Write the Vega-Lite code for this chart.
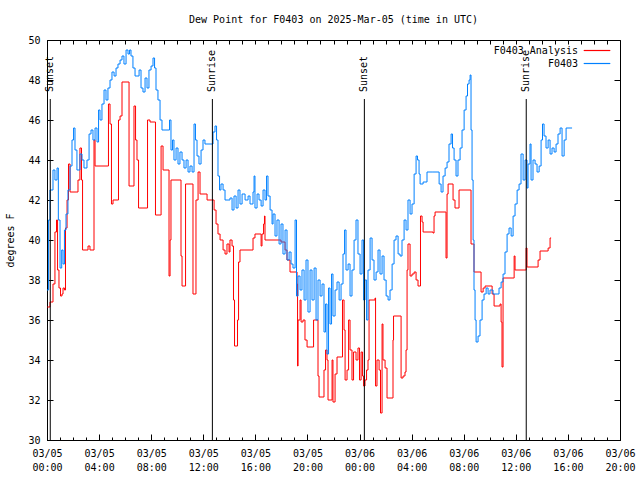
{
  "$schema": "https://vega.github.io/schema/vega-lite/v6.json",
  "width": 573,
  "height": 400,
  "autosize": {"type": "none"},
  "padding": {"left": 47, "top": 40, "right": 20, "bottom": 40},
  "title": {"text": "Dew Point for F0403 on 2025-Mar-05 (time in UTC)", "font": "DejaVu Sans Mono", "fontSize": 10, "fontWeight": "normal", "color": "black", "anchor": "middle", "offset": 10},
  "config": {
    "view": {"stroke": "black", "strokeWidth": 1},
    "font": "DejaVu Sans Mono",
    "axis": {"grid": false, "domainColor": "black", "tickColor": "black", "labelColor": "black", "labelFont": "DejaVu Sans Mono", "labelFontSize": 10, "titleFont": "DejaVu Sans Mono", "titleFontSize": 10, "titleFontWeight": "normal", "titleColor": "black"}
  },
  "datasets": {
    "obs": [
      {"series":"F0403 Analysis","hour":0.02,"dewpoint":36.65},
      {"series":"F0403 Analysis","hour":0.23,"dewpoint":36.9},
      {"series":"F0403 Analysis","hour":0.46,"dewpoint":37.8},
      {"series":"F0403 Analysis","hour":0.61,"dewpoint":40.4},
      {"series":"F0403 Analysis","hour":0.73,"dewpoint":41.0},
      {"series":"F0403 Analysis","hour":0.81,"dewpoint":38.5},
      {"series":"F0403 Analysis","hour":0.92,"dewpoint":37.6},
      {"series":"F0403 Analysis","hour":1.04,"dewpoint":37.2},
      {"series":"F0403 Analysis","hour":1.15,"dewpoint":37.3},
      {"series":"F0403 Analysis","hour":1.23,"dewpoint":37.6},
      {"series":"F0403 Analysis","hour":1.34,"dewpoint":37.5},
      {"series":"F0403 Analysis","hour":1.42,"dewpoint":40.6},
      {"series":"F0403 Analysis","hour":1.54,"dewpoint":42.0},
      {"series":"F0403 Analysis","hour":1.65,"dewpoint":43.8},
      {"series":"F0403 Analysis","hour":1.77,"dewpoint":42.4},
      {"series":"F0403 Analysis","hour":2.30,"dewpoint":42.4},
      {"series":"F0403 Analysis","hour":2.38,"dewpoint":43.0},
      {"series":"F0403 Analysis","hour":2.53,"dewpoint":44.6},
      {"series":"F0403 Analysis","hour":2.65,"dewpoint":43.0},
      {"series":"F0403 Analysis","hour":2.73,"dewpoint":39.5},
      {"series":"F0403 Analysis","hour":3.07,"dewpoint":39.5},
      {"series":"F0403 Analysis","hour":3.15,"dewpoint":39.7},
      {"series":"F0403 Analysis","hour":3.30,"dewpoint":39.5},
      {"series":"F0403 Analysis","hour":3.53,"dewpoint":39.5},
      {"series":"F0403 Analysis","hour":3.61,"dewpoint":45.0},
      {"series":"F0403 Analysis","hour":3.69,"dewpoint":43.7},
      {"series":"F0403 Analysis","hour":4.68,"dewpoint":43.7},
      {"series":"F0403 Analysis","hour":4.72,"dewpoint":46.8},
      {"series":"F0403 Analysis","hour":4.84,"dewpoint":45.8},
      {"series":"F0403 Analysis","hour":4.95,"dewpoint":41.8},
      {"series":"F0403 Analysis","hour":5.07,"dewpoint":42.0},
      {"series":"F0403 Analysis","hour":5.38,"dewpoint":42.0},
      {"series":"F0403 Analysis","hour":5.49,"dewpoint":46.0},
      {"series":"F0403 Analysis","hour":5.61,"dewpoint":46.2},
      {"series":"F0403 Analysis","hour":5.76,"dewpoint":47.9},
      {"series":"F0403 Analysis","hour":6.22,"dewpoint":47.9},
      {"series":"F0403 Analysis","hour":6.30,"dewpoint":42.7},
      {"series":"F0403 Analysis","hour":6.60,"dewpoint":42.7},
      {"series":"F0403 Analysis","hour":6.68,"dewpoint":46.7},
      {"series":"F0403 Analysis","hour":6.80,"dewpoint":45.0},
      {"series":"F0403 Analysis","hour":6.91,"dewpoint":44.0},
      {"series":"F0403 Analysis","hour":7.03,"dewpoint":41.6},
      {"series":"F0403 Analysis","hour":7.68,"dewpoint":41.6},
      {"series":"F0403 Analysis","hour":7.72,"dewpoint":46.0},
      {"series":"F0403 Analysis","hour":7.91,"dewpoint":45.9},
      {"series":"F0403 Analysis","hour":8.29,"dewpoint":45.9},
      {"series":"F0403 Analysis","hour":8.33,"dewpoint":41.25},
      {"series":"F0403 Analysis","hour":8.68,"dewpoint":41.25},
      {"series":"F0403 Analysis","hour":8.76,"dewpoint":44.7},
      {"series":"F0403 Analysis","hour":8.91,"dewpoint":43.5},
      {"series":"F0403 Analysis","hour":9.29,"dewpoint":43.5},
      {"series":"F0403 Analysis","hour":9.37,"dewpoint":38.2},
      {"series":"F0403 Analysis","hour":9.45,"dewpoint":40.0},
      {"series":"F0403 Analysis","hour":9.52,"dewpoint":43.0},
      {"series":"F0403 Analysis","hour":10.21,"dewpoint":43.0},
      {"series":"F0403 Analysis","hour":10.29,"dewpoint":39.2},
      {"series":"F0403 Analysis","hour":10.37,"dewpoint":37.7},
      {"series":"F0403 Analysis","hour":10.60,"dewpoint":37.7},
      {"series":"F0403 Analysis","hour":10.64,"dewpoint":42.8},
      {"series":"F0403 Analysis","hour":11.14,"dewpoint":42.8},
      {"series":"F0403 Analysis","hour":11.21,"dewpoint":37.3},
      {"series":"F0403 Analysis","hour":11.37,"dewpoint":37.3},
      {"series":"F0403 Analysis","hour":11.44,"dewpoint":42.0},
      {"series":"F0403 Analysis","hour":11.60,"dewpoint":43.4},
      {"series":"F0403 Analysis","hour":11.75,"dewpoint":42.3},
      {"series":"F0403 Analysis","hour":12.29,"dewpoint":42.0},
      {"series":"F0403 Analysis","hour":12.75,"dewpoint":42.0},
      {"series":"F0403 Analysis","hour":12.83,"dewpoint":41.5},
      {"series":"F0403 Analysis","hour":12.98,"dewpoint":40.8},
      {"series":"F0403 Analysis","hour":13.13,"dewpoint":40.3},
      {"series":"F0403 Analysis","hour":13.29,"dewpoint":40.0},
      {"series":"F0403 Analysis","hour":13.52,"dewpoint":39.5},
      {"series":"F0403 Analysis","hour":13.67,"dewpoint":39.3},
      {"series":"F0403 Analysis","hour":13.82,"dewpoint":39.8},
      {"series":"F0403 Analysis","hour":13.98,"dewpoint":39.4},
      {"series":"F0403 Analysis","hour":14.05,"dewpoint":40.0},
      {"series":"F0403 Analysis","hour":14.21,"dewpoint":39.7},
      {"series":"F0403 Analysis","hour":14.32,"dewpoint":37.0},
      {"series":"F0403 Analysis","hour":14.40,"dewpoint":34.7},
      {"series":"F0403 Analysis","hour":14.59,"dewpoint":34.7},
      {"series":"F0403 Analysis","hour":14.63,"dewpoint":36.0},
      {"series":"F0403 Analysis","hour":14.71,"dewpoint":38.9},
      {"series":"F0403 Analysis","hour":14.82,"dewpoint":39.5},
      {"series":"F0403 Analysis","hour":15.74,"dewpoint":39.5},
      {"series":"F0403 Analysis","hour":15.82,"dewpoint":40.1},
      {"series":"F0403 Analysis","hour":15.97,"dewpoint":40.3},
      {"series":"F0403 Analysis","hour":16.36,"dewpoint":40.3},
      {"series":"F0403 Analysis","hour":16.44,"dewpoint":39.7},
      {"series":"F0403 Analysis","hour":16.51,"dewpoint":40.3},
      {"series":"F0403 Analysis","hour":16.63,"dewpoint":40.8},
      {"series":"F0403 Analysis","hour":16.70,"dewpoint":41.2},
      {"series":"F0403 Analysis","hour":16.74,"dewpoint":40.0},
      {"series":"F0403 Analysis","hour":17.66,"dewpoint":40.0},
      {"series":"F0403 Analysis","hour":17.97,"dewpoint":39.9},
      {"series":"F0403 Analysis","hour":18.28,"dewpoint":39.5},
      {"series":"F0403 Analysis","hour":18.43,"dewpoint":39.0},
      {"series":"F0403 Analysis","hour":18.66,"dewpoint":38.4},
      {"series":"F0403 Analysis","hour":18.97,"dewpoint":38.4},
      {"series":"F0403 Analysis","hour":19.20,"dewpoint":37.8},
      {"series":"F0403 Analysis","hour":19.24,"dewpoint":33.7},
      {"series":"F0403 Analysis","hour":19.28,"dewpoint":36.0},
      {"series":"F0403 Analysis","hour":19.43,"dewpoint":37.0},
      {"series":"F0403 Analysis","hour":19.51,"dewpoint":35.9},
      {"series":"F0403 Analysis","hour":19.66,"dewpoint":36.0},
      {"series":"F0403 Analysis","hour":19.81,"dewpoint":35.0},
      {"series":"F0403 Analysis","hour":19.97,"dewpoint":34.65},
      {"series":"F0403 Analysis","hour":20.43,"dewpoint":34.65},
      {"series":"F0403 Analysis","hour":20.47,"dewpoint":36.0},
      {"series":"F0403 Analysis","hour":20.74,"dewpoint":36.0},
      {"series":"F0403 Analysis","hour":20.81,"dewpoint":33.2},
      {"series":"F0403 Analysis","hour":20.89,"dewpoint":32.15},
      {"series":"F0403 Analysis","hour":21.20,"dewpoint":32.15},
      {"series":"F0403 Analysis","hour":21.27,"dewpoint":33.5},
      {"series":"F0403 Analysis","hour":21.39,"dewpoint":34.5},
      {"series":"F0403 Analysis","hour":21.50,"dewpoint":34.0},
      {"series":"F0403 Analysis","hour":21.58,"dewpoint":32.0},
      {"series":"F0403 Analysis","hour":21.81,"dewpoint":32.0},
      {"series":"F0403 Analysis","hour":21.89,"dewpoint":34.0},
      {"series":"F0403 Analysis","hour":21.96,"dewpoint":31.9},
      {"series":"F0403 Analysis","hour":22.12,"dewpoint":33.3},
      {"series":"F0403 Analysis","hour":22.27,"dewpoint":34.15},
      {"series":"F0403 Analysis","hour":22.62,"dewpoint":34.15},
      {"series":"F0403 Analysis","hour":22.69,"dewpoint":37.0},
      {"series":"F0403 Analysis","hour":22.81,"dewpoint":35.5},
      {"series":"F0403 Analysis","hour":22.89,"dewpoint":33.0},
      {"series":"F0403 Analysis","hour":23.04,"dewpoint":33.5},
      {"series":"F0403 Analysis","hour":23.16,"dewpoint":36.0},
      {"series":"F0403 Analysis","hour":23.27,"dewpoint":34.5},
      {"series":"F0403 Analysis","hour":23.42,"dewpoint":33.0},
      {"series":"F0403 Analysis","hour":23.54,"dewpoint":34.4},
      {"series":"F0403 Analysis","hour":23.73,"dewpoint":34.0},
      {"series":"F0403 Analysis","hour":23.88,"dewpoint":34.6},
      {"series":"F0403 Analysis","hour":24.00,"dewpoint":33.0},
      {"series":"F0403 Analysis","hour":24.12,"dewpoint":34.4},
      {"series":"F0403 Analysis","hour":24.23,"dewpoint":33.2},
      {"series":"F0403 Analysis","hour":24.31,"dewpoint":32.7},
      {"series":"F0403 Analysis","hour":24.42,"dewpoint":33.0},
      {"series":"F0403 Analysis","hour":24.54,"dewpoint":33.5},
      {"series":"F0403 Analysis","hour":24.65,"dewpoint":34.0},
      {"series":"F0403 Analysis","hour":24.73,"dewpoint":37.0},
      {"series":"F0403 Analysis","hour":25.19,"dewpoint":37.1},
      {"series":"F0403 Analysis","hour":25.23,"dewpoint":32.7},
      {"series":"F0403 Analysis","hour":25.34,"dewpoint":34.0},
      {"series":"F0403 Analysis","hour":25.50,"dewpoint":33.5},
      {"series":"F0403 Analysis","hour":25.61,"dewpoint":31.35},
      {"series":"F0403 Analysis","hour":25.73,"dewpoint":35.8},
      {"series":"F0403 Analysis","hour":25.80,"dewpoint":34.0},
      {"series":"F0403 Analysis","hour":25.96,"dewpoint":33.6},
      {"series":"F0403 Analysis","hour":26.11,"dewpoint":32.1},
      {"series":"F0403 Analysis","hour":26.50,"dewpoint":32.1},
      {"series":"F0403 Analysis","hour":26.57,"dewpoint":35.0},
      {"series":"F0403 Analysis","hour":26.61,"dewpoint":36.2},
      {"series":"F0403 Analysis","hour":27.11,"dewpoint":36.2},
      {"series":"F0403 Analysis","hour":27.19,"dewpoint":33.1},
      {"series":"F0403 Analysis","hour":27.34,"dewpoint":33.2},
      {"series":"F0403 Analysis","hour":27.49,"dewpoint":33.4},
      {"series":"F0403 Analysis","hour":27.57,"dewpoint":34.5},
      {"series":"F0403 Analysis","hour":27.65,"dewpoint":38.5},
      {"series":"F0403 Analysis","hour":27.72,"dewpoint":39.8},
      {"series":"F0403 Analysis","hour":27.88,"dewpoint":38.2},
      {"series":"F0403 Analysis","hour":28.03,"dewpoint":38.3},
      {"series":"F0403 Analysis","hour":28.19,"dewpoint":38.4},
      {"series":"F0403 Analysis","hour":28.34,"dewpoint":38.0},
      {"series":"F0403 Analysis","hour":28.49,"dewpoint":37.7},
      {"series":"F0403 Analysis","hour":28.65,"dewpoint":37.7},
      {"series":"F0403 Analysis","hour":28.68,"dewpoint":41.2},
      {"series":"F0403 Analysis","hour":28.80,"dewpoint":40.9},
      {"series":"F0403 Analysis","hour":28.88,"dewpoint":40.4},
      {"series":"F0403 Analysis","hour":29.64,"dewpoint":40.35},
      {"series":"F0403 Analysis","hour":29.72,"dewpoint":41.2},
      {"series":"F0403 Analysis","hour":29.80,"dewpoint":41.4},
      {"series":"F0403 Analysis","hour":30.57,"dewpoint":41.4},
      {"series":"F0403 Analysis","hour":30.64,"dewpoint":39.1},
      {"series":"F0403 Analysis","hour":30.72,"dewpoint":42.3},
      {"series":"F0403 Analysis","hour":30.80,"dewpoint":42.8},
      {"series":"F0403 Analysis","hour":31.10,"dewpoint":42.8},
      {"series":"F0403 Analysis","hour":31.18,"dewpoint":42.0},
      {"series":"F0403 Analysis","hour":31.33,"dewpoint":41.6},
      {"series":"F0403 Analysis","hour":31.56,"dewpoint":41.6},
      {"series":"F0403 Analysis","hour":31.64,"dewpoint":42.5},
      {"series":"F0403 Analysis","hour":32.49,"dewpoint":42.5},
      {"series":"F0403 Analysis","hour":32.56,"dewpoint":39.8},
      {"series":"F0403 Analysis","hour":32.72,"dewpoint":39.8},
      {"series":"F0403 Analysis","hour":32.79,"dewpoint":38.4},
      {"series":"F0403 Analysis","hour":33.25,"dewpoint":38.4},
      {"series":"F0403 Analysis","hour":33.33,"dewpoint":37.4},
      {"series":"F0403 Analysis","hour":33.49,"dewpoint":37.6},
      {"series":"F0403 Analysis","hour":33.64,"dewpoint":37.7},
      {"series":"F0403 Analysis","hour":34.02,"dewpoint":37.7},
      {"series":"F0403 Analysis","hour":34.18,"dewpoint":37.3},
      {"series":"F0403 Analysis","hour":34.33,"dewpoint":36.7},
      {"series":"F0403 Analysis","hour":34.56,"dewpoint":36.7},
      {"series":"F0403 Analysis","hour":34.79,"dewpoint":36.8},
      {"series":"F0403 Analysis","hour":34.87,"dewpoint":35.9},
      {"series":"F0403 Analysis","hour":34.94,"dewpoint":33.65},
      {"series":"F0403 Analysis","hour":35.02,"dewpoint":38.1},
      {"series":"F0403 Analysis","hour":35.79,"dewpoint":38.1},
      {"series":"F0403 Analysis","hour":35.87,"dewpoint":39.2},
      {"series":"F0403 Analysis","hour":35.94,"dewpoint":38.5},
      {"series":"F0403 Analysis","hour":36.71,"dewpoint":38.5},
      {"series":"F0403 Analysis","hour":36.79,"dewpoint":39.6},
      {"series":"F0403 Analysis","hour":36.86,"dewpoint":38.65},
      {"series":"F0403 Analysis","hour":37.63,"dewpoint":38.65},
      {"series":"F0403 Analysis","hour":37.71,"dewpoint":39.0},
      {"series":"F0403 Analysis","hour":37.86,"dewpoint":39.45},
      {"series":"F0403 Analysis","hour":38.40,"dewpoint":39.45},
      {"series":"F0403 Analysis","hour":38.48,"dewpoint":39.6},
      {"series":"F0403 Analysis","hour":38.63,"dewpoint":40.1},
      {"series":"F0403 Analysis","hour":38.71,"dewpoint":40.1},
      {"series":"F0403","hour":0.0,"dewpoint":37.5},
      {"series":"F0403","hour":0.12,"dewpoint":41.0},
      {"series":"F0403","hour":0.23,"dewpoint":42.5},
      {"series":"F0403","hour":0.46,"dewpoint":43.5},
      {"series":"F0403","hour":0.61,"dewpoint":43.0},
      {"series":"F0403","hour":0.77,"dewpoint":43.6},
      {"series":"F0403","hour":0.87,"dewpoint":41.0},
      {"series":"F0403","hour":1.0,"dewpoint":38.6},
      {"series":"F0403","hour":1.13,"dewpoint":39.5},
      {"series":"F0403","hour":1.23,"dewpoint":38.8},
      {"series":"F0403","hour":1.34,"dewpoint":40.5},
      {"series":"F0403","hour":1.46,"dewpoint":41.3},
      {"series":"F0403","hour":1.61,"dewpoint":42.5},
      {"series":"F0403","hour":1.77,"dewpoint":43.7},
      {"series":"F0403","hour":1.92,"dewpoint":45.0},
      {"series":"F0403","hour":2.04,"dewpoint":45.6},
      {"series":"F0403","hour":2.15,"dewpoint":44.5},
      {"series":"F0403","hour":2.30,"dewpoint":43.5},
      {"series":"F0403","hour":2.53,"dewpoint":44.3},
      {"series":"F0403","hour":2.69,"dewpoint":44.0},
      {"series":"F0403","hour":2.84,"dewpoint":43.6},
      {"series":"F0403","hour":3.07,"dewpoint":44.0},
      {"series":"F0403","hour":3.23,"dewpoint":45.3},
      {"series":"F0403","hour":3.38,"dewpoint":45.5},
      {"series":"F0403","hour":3.53,"dewpoint":45.0},
      {"series":"F0403","hour":3.69,"dewpoint":45.6},
      {"series":"F0403","hour":3.84,"dewpoint":44.9},
      {"series":"F0403","hour":3.96,"dewpoint":46.5},
      {"series":"F0403","hour":4.07,"dewpoint":46.0},
      {"series":"F0403","hour":4.22,"dewpoint":46.8},
      {"series":"F0403","hour":4.38,"dewpoint":47.5},
      {"series":"F0403","hour":4.53,"dewpoint":47.0},
      {"series":"F0403","hour":4.68,"dewpoint":47.6},
      {"series":"F0403","hour":4.84,"dewpoint":48.0},
      {"series":"F0403","hour":4.99,"dewpoint":48.4},
      {"series":"F0403","hour":5.15,"dewpoint":48.2},
      {"series":"F0403","hour":5.30,"dewpoint":48.6},
      {"series":"F0403","hour":5.45,"dewpoint":48.8},
      {"series":"F0403","hour":5.61,"dewpoint":49.0},
      {"series":"F0403","hour":5.76,"dewpoint":49.2},
      {"series":"F0403","hour":5.91,"dewpoint":48.8},
      {"series":"F0403","hour":6.07,"dewpoint":49.5},
      {"series":"F0403","hour":6.22,"dewpoint":49.3},
      {"series":"F0403","hour":6.34,"dewpoint":49.5},
      {"series":"F0403","hour":6.45,"dewpoint":49.2},
      {"series":"F0403","hour":6.60,"dewpoint":48.6},
      {"series":"F0403","hour":6.76,"dewpoint":48.2},
      {"series":"F0403","hour":6.91,"dewpoint":48.2},
      {"series":"F0403","hour":7.07,"dewpoint":48.5},
      {"series":"F0403","hour":7.22,"dewpoint":47.6},
      {"series":"F0403","hour":7.37,"dewpoint":47.4},
      {"series":"F0403","hour":7.53,"dewpoint":48.1},
      {"series":"F0403","hour":7.68,"dewpoint":47.6},
      {"series":"F0403","hour":7.83,"dewpoint":48.5},
      {"series":"F0403","hour":7.99,"dewpoint":48.7},
      {"series":"F0403","hour":8.14,"dewpoint":49.1},
      {"series":"F0403","hour":8.26,"dewpoint":48.6},
      {"series":"F0403","hour":8.37,"dewpoint":47.5},
      {"series":"F0403","hour":8.52,"dewpoint":47.0},
      {"series":"F0403","hour":8.68,"dewpoint":46.0},
      {"series":"F0403","hour":8.83,"dewpoint":45.5},
      {"series":"F0403","hour":9.06,"dewpoint":45.5},
      {"series":"F0403","hour":9.29,"dewpoint":45.5},
      {"series":"F0403","hour":9.41,"dewpoint":46.0},
      {"series":"F0403","hour":9.52,"dewpoint":44.5},
      {"series":"F0403","hour":9.64,"dewpoint":45.0},
      {"series":"F0403","hour":9.75,"dewpoint":44.0},
      {"series":"F0403","hour":9.91,"dewpoint":44.6},
      {"series":"F0403","hour":10.06,"dewpoint":43.8},
      {"series":"F0403","hour":10.21,"dewpoint":44.4},
      {"series":"F0403","hour":10.37,"dewpoint":44.0},
      {"series":"F0403","hour":10.52,"dewpoint":43.6},
      {"series":"F0403","hour":10.68,"dewpoint":44.0},
      {"series":"F0403","hour":10.83,"dewpoint":43.4},
      {"series":"F0403","hour":10.98,"dewpoint":43.7},
      {"series":"F0403","hour":11.14,"dewpoint":43.4},
      {"series":"F0403","hour":11.29,"dewpoint":45.8},
      {"series":"F0403","hour":11.40,"dewpoint":45.0},
      {"series":"F0403","hour":11.52,"dewpoint":44.2},
      {"series":"F0403","hour":11.67,"dewpoint":43.8},
      {"series":"F0403","hour":11.83,"dewpoint":44.5},
      {"series":"F0403","hour":11.98,"dewpoint":45.0},
      {"series":"F0403","hour":12.13,"dewpoint":44.8},
      {"series":"F0403","hour":12.52,"dewpoint":44.8},
      {"series":"F0403","hour":12.75,"dewpoint":45.4},
      {"series":"F0403","hour":12.90,"dewpoint":45.7},
      {"series":"F0403","hour":13.02,"dewpoint":45.0},
      {"series":"F0403","hour":13.13,"dewpoint":43.2},
      {"series":"F0403","hour":13.25,"dewpoint":42.5},
      {"series":"F0403","hour":13.36,"dewpoint":42.8},
      {"series":"F0403","hour":13.52,"dewpoint":42.5},
      {"series":"F0403","hour":13.67,"dewpoint":42.0},
      {"series":"F0403","hour":14.05,"dewpoint":42.1},
      {"series":"F0403","hour":14.21,"dewpoint":41.5},
      {"series":"F0403","hour":14.36,"dewpoint":42.2},
      {"series":"F0403","hour":14.52,"dewpoint":41.6},
      {"series":"F0403","hour":14.67,"dewpoint":42.5},
      {"series":"F0403","hour":14.82,"dewpoint":41.8},
      {"series":"F0403","hour":14.98,"dewpoint":42.3},
      {"series":"F0403","hour":15.21,"dewpoint":42.0},
      {"series":"F0403","hour":15.44,"dewpoint":42.2},
      {"series":"F0403","hour":15.59,"dewpoint":41.8},
      {"series":"F0403","hour":15.82,"dewpoint":42.4},
      {"series":"F0403","hour":15.90,"dewpoint":43.2},
      {"series":"F0403","hour":15.97,"dewpoint":41.6},
      {"series":"F0403","hour":16.13,"dewpoint":42.3},
      {"series":"F0403","hour":16.28,"dewpoint":42.0},
      {"series":"F0403","hour":16.44,"dewpoint":41.7},
      {"series":"F0403","hour":16.59,"dewpoint":42.5},
      {"series":"F0403","hour":16.74,"dewpoint":42.0},
      {"series":"F0403","hour":16.86,"dewpoint":43.2},
      {"series":"F0403","hour":16.97,"dewpoint":42.2},
      {"series":"F0403","hour":17.13,"dewpoint":41.5},
      {"series":"F0403","hour":17.28,"dewpoint":40.8},
      {"series":"F0403","hour":17.36,"dewpoint":41.3},
      {"series":"F0403","hour":17.51,"dewpoint":40.2},
      {"series":"F0403","hour":17.66,"dewpoint":41.0},
      {"series":"F0403","hour":17.82,"dewpoint":39.8},
      {"series":"F0403","hour":17.97,"dewpoint":40.8},
      {"series":"F0403","hour":18.12,"dewpoint":39.3},
      {"series":"F0403","hour":18.28,"dewpoint":40.5},
      {"series":"F0403","hour":18.43,"dewpoint":39.0},
      {"series":"F0403","hour":18.59,"dewpoint":39.4},
      {"series":"F0403","hour":18.74,"dewpoint":38.8},
      {"series":"F0403","hour":18.89,"dewpoint":38.6},
      {"series":"F0403","hour":19.05,"dewpoint":41.0},
      {"series":"F0403","hour":19.16,"dewpoint":37.2},
      {"series":"F0403","hour":19.28,"dewpoint":38.2},
      {"series":"F0403","hour":19.43,"dewpoint":37.5},
      {"series":"F0403","hour":19.58,"dewpoint":38.5},
      {"series":"F0403","hour":19.74,"dewpoint":37.0},
      {"series":"F0403","hour":19.89,"dewpoint":39.0},
      {"series":"F0403","hour":20.04,"dewpoint":36.4},
      {"series":"F0403","hour":20.20,"dewpoint":38.5},
      {"series":"F0403","hour":20.35,"dewpoint":37.0},
      {"series":"F0403","hour":20.51,"dewpoint":38.6},
      {"series":"F0403","hour":20.66,"dewpoint":36.0},
      {"series":"F0403","hour":20.81,"dewpoint":38.0},
      {"series":"F0403","hour":20.97,"dewpoint":37.2},
      {"series":"F0403","hour":21.12,"dewpoint":37.8},
      {"series":"F0403","hour":21.27,"dewpoint":35.4},
      {"series":"F0403","hour":21.39,"dewpoint":36.8},
      {"series":"F0403","hour":21.50,"dewpoint":34.3},
      {"series":"F0403","hour":21.62,"dewpoint":37.6},
      {"series":"F0403","hour":21.73,"dewpoint":35.8},
      {"series":"F0403","hour":21.85,"dewpoint":38.3},
      {"series":"F0403","hour":21.96,"dewpoint":36.2},
      {"series":"F0403","hour":22.12,"dewpoint":37.5},
      {"series":"F0403","hour":22.27,"dewpoint":37.9},
      {"series":"F0403","hour":22.43,"dewpoint":37.0},
      {"series":"F0403","hour":22.58,"dewpoint":37.8},
      {"series":"F0403","hour":22.73,"dewpoint":39.3},
      {"series":"F0403","hour":22.85,"dewpoint":40.5},
      {"series":"F0403","hour":22.96,"dewpoint":38.5},
      {"series":"F0403","hour":23.12,"dewpoint":38.8},
      {"series":"F0403","hour":23.27,"dewpoint":37.2},
      {"series":"F0403","hour":23.42,"dewpoint":38.5},
      {"series":"F0403","hour":23.58,"dewpoint":40.0},
      {"series":"F0403","hour":23.73,"dewpoint":41.0},
      {"series":"F0403","hour":23.88,"dewpoint":39.3},
      {"series":"F0403","hour":24.04,"dewpoint":38.3},
      {"series":"F0403","hour":24.19,"dewpoint":40.0},
      {"series":"F0403","hour":24.31,"dewpoint":37.0},
      {"series":"F0403","hour":24.42,"dewpoint":38.0},
      {"series":"F0403","hour":24.54,"dewpoint":36.0},
      {"series":"F0403","hour":24.65,"dewpoint":38.5},
      {"series":"F0403","hour":24.81,"dewpoint":40.1},
      {"series":"F0403","hour":24.96,"dewpoint":39.0},
      {"series":"F0403","hour":25.11,"dewpoint":38.0},
      {"series":"F0403","hour":25.27,"dewpoint":38.4},
      {"series":"F0403","hour":25.42,"dewpoint":39.5},
      {"series":"F0403","hour":25.57,"dewpoint":38.3},
      {"series":"F0403","hour":25.73,"dewpoint":39.2},
      {"series":"F0403","hour":25.88,"dewpoint":38.0},
      {"series":"F0403","hour":26.04,"dewpoint":37.2},
      {"series":"F0403","hour":26.19,"dewpoint":37.0},
      {"series":"F0403","hour":26.34,"dewpoint":37.5},
      {"series":"F0403","hour":26.50,"dewpoint":38.8},
      {"series":"F0403","hour":26.65,"dewpoint":40.0},
      {"series":"F0403","hour":26.80,"dewpoint":40.2},
      {"series":"F0403","hour":26.96,"dewpoint":39.3},
      {"series":"F0403","hour":27.11,"dewpoint":39.2},
      {"series":"F0403","hour":27.26,"dewpoint":40.0},
      {"series":"F0403","hour":27.42,"dewpoint":41.0},
      {"series":"F0403","hour":27.57,"dewpoint":40.5},
      {"series":"F0403","hour":27.72,"dewpoint":42.0},
      {"series":"F0403","hour":27.88,"dewpoint":41.3},
      {"series":"F0403","hour":28.03,"dewpoint":41.8},
      {"series":"F0403","hour":28.19,"dewpoint":43.3},
      {"series":"F0403","hour":28.34,"dewpoint":44.2},
      {"series":"F0403","hour":28.45,"dewpoint":44.0},
      {"series":"F0403","hour":28.57,"dewpoint":43.3},
      {"series":"F0403","hour":28.65,"dewpoint":42.8},
      {"series":"F0403","hour":28.88,"dewpoint":42.9},
      {"series":"F0403","hour":29.18,"dewpoint":43.4},
      {"series":"F0403","hour":29.57,"dewpoint":43.4},
      {"series":"F0403","hour":29.95,"dewpoint":43.4},
      {"series":"F0403","hour":30.11,"dewpoint":42.8},
      {"series":"F0403","hour":30.26,"dewpoint":42.4},
      {"series":"F0403","hour":30.41,"dewpoint":43.2},
      {"series":"F0403","hour":30.57,"dewpoint":43.6},
      {"series":"F0403","hour":30.72,"dewpoint":43.9},
      {"series":"F0403","hour":30.87,"dewpoint":44.8},
      {"series":"F0403","hour":31.03,"dewpoint":45.3},
      {"series":"F0403","hour":31.14,"dewpoint":44.6},
      {"series":"F0403","hour":31.26,"dewpoint":44.0},
      {"series":"F0403","hour":31.41,"dewpoint":43.2},
      {"series":"F0403","hour":31.56,"dewpoint":44.0},
      {"series":"F0403","hour":31.72,"dewpoint":44.6},
      {"series":"F0403","hour":31.87,"dewpoint":45.5},
      {"series":"F0403","hour":32.03,"dewpoint":46.5},
      {"series":"F0403","hour":32.18,"dewpoint":47.2},
      {"series":"F0403","hour":32.29,"dewpoint":47.8},
      {"series":"F0403","hour":32.41,"dewpoint":48.0},
      {"series":"F0403","hour":32.49,"dewpoint":48.25},
      {"series":"F0403","hour":32.56,"dewpoint":45.5},
      {"series":"F0403","hour":32.64,"dewpoint":43.0},
      {"series":"F0403","hour":32.72,"dewpoint":40.0},
      {"series":"F0403","hour":32.79,"dewpoint":37.5},
      {"series":"F0403","hour":32.87,"dewpoint":36.0},
      {"series":"F0403","hour":32.95,"dewpoint":34.9},
      {"series":"F0403","hour":33.10,"dewpoint":35.2},
      {"series":"F0403","hour":33.25,"dewpoint":36.0},
      {"series":"F0403","hour":33.41,"dewpoint":37.0},
      {"series":"F0403","hour":33.56,"dewpoint":37.3},
      {"series":"F0403","hour":33.72,"dewpoint":37.6},
      {"series":"F0403","hour":33.87,"dewpoint":37.3},
      {"series":"F0403","hour":34.02,"dewpoint":37.5},
      {"series":"F0403","hour":34.25,"dewpoint":37.3},
      {"series":"F0403","hour":34.56,"dewpoint":37.3},
      {"series":"F0403","hour":34.71,"dewpoint":37.6},
      {"series":"F0403","hour":34.87,"dewpoint":37.9},
      {"series":"F0403","hour":35.02,"dewpoint":38.3},
      {"series":"F0403","hour":35.17,"dewpoint":39.4},
      {"series":"F0403","hour":35.33,"dewpoint":40.3},
      {"series":"F0403","hour":35.48,"dewpoint":40.6},
      {"series":"F0403","hour":35.64,"dewpoint":40.2},
      {"series":"F0403","hour":35.79,"dewpoint":41.2},
      {"series":"F0403","hour":35.94,"dewpoint":41.8},
      {"series":"F0403","hour":36.10,"dewpoint":42.5},
      {"series":"F0403","hour":36.25,"dewpoint":42.8},
      {"series":"F0403","hour":36.40,"dewpoint":44.3},
      {"series":"F0403","hour":36.56,"dewpoint":43.0},
      {"series":"F0403","hour":36.71,"dewpoint":44.0},
      {"series":"F0403","hour":36.86,"dewpoint":42.6},
      {"series":"F0403","hour":36.94,"dewpoint":43.8},
      {"series":"F0403","hour":37.09,"dewpoint":44.8},
      {"series":"F0403","hour":37.17,"dewpoint":43.0},
      {"series":"F0403","hour":37.32,"dewpoint":44.0},
      {"series":"F0403","hour":37.48,"dewpoint":43.8},
      {"series":"F0403","hour":37.63,"dewpoint":43.4},
      {"series":"F0403","hour":37.79,"dewpoint":43.7},
      {"series":"F0403","hour":37.94,"dewpoint":45.0},
      {"series":"F0403","hour":38.05,"dewpoint":45.8},
      {"series":"F0403","hour":38.17,"dewpoint":45.2},
      {"series":"F0403","hour":38.32,"dewpoint":44.6},
      {"series":"F0403","hour":38.48,"dewpoint":45.0},
      {"series":"F0403","hour":38.63,"dewpoint":44.3},
      {"series":"F0403","hour":38.78,"dewpoint":44.6},
      {"series":"F0403","hour":38.94,"dewpoint":44.4},
      {"series":"F0403","hour":39.09,"dewpoint":44.8},
      {"series":"F0403","hour":39.24,"dewpoint":45.3},
      {"series":"F0403","hour":39.40,"dewpoint":45.6},
      {"series":"F0403","hour":39.55,"dewpoint":44.2},
      {"series":"F0403","hour":39.71,"dewpoint":45.0},
      {"series":"F0403","hour":39.86,"dewpoint":45.6},
      {"series":"F0403","hour":40.32,"dewpoint":45.6}
    ],
    "sun": [
      {"hour": 0.25, "event": "Sunset"},
      {"hour": 12.7, "event": "Sunrise"},
      {"hour": 24.37, "event": "Sunset"},
      {"hour": 36.8, "event": "Sunrise"}
    ]
  },
  "layer": [
    {
      "data": {"name": "obs"},
      "mark": {"type": "line", "interpolate": "step-after", "strokeWidth": 1},
      "encoding": {
        "x": {"field": "hour", "type": "quantitative", "scale": {"domain": [0, 44], "nice": false, "zero": false},
              "axis": {"orient": "bottom", "values": [0,4,8,12,16,20,24,28,32,36,40,44], "tickSize": -6, "labelPadding": 14, "labelLineHeight": 14, "labelFlush": false, "labelOverlap": false, "title": null,
                       "labelExpr": "[datum.value < 24 ? '03/05' : '03/06', (datum.value % 24 < 10 ? '0' : '') + (datum.value % 24) + ':00']"}},
        "y": {"field": "dewpoint", "type": "quantitative", "scale": {"domain": [30, 50], "nice": false, "zero": false},
              "axis": {"orient": "left", "values": [30,32,34,36,38,40,42,44,46,48,50], "tickSize": -6, "labelPadding": 13, "title": "degrees F", "titlePadding": 12}},
        "color": {"field": "series", "type": "nominal", "scale": {"domain": ["F0403 Analysis", "F0403"], "range": ["#ff0000", "#0080ff"]},
                  "legend": {"orient": "none", "legendX": 542, "legendY": 2.5, "title": null, "symbolType": "M-1.9,0H1.9", "symbolSize": 196, "symbolStrokeWidth": 1.2, "symbolFillColor": "transparent", "labelFont": "DejaVu Sans Mono", "labelFontSize": 10, "labelColor": "black", "labelAlign": "right", "labelOffset": -27, "rowPadding": 0, "padding": 0}}
      }
    },
    {
      "data": {"name": "sun"},
      "mark": {"type": "rule", "color": "black", "strokeWidth": 1},
      "encoding": {
        "x": {"field": "hour", "type": "quantitative", "axis": {"orient": "bottom", "values": [0,1,2,3,4,5,6,7,8,9,10,11,12,13,14,15,16,17,18,19,20,21,22,23,24,25,26,27,28,29,30,31,32,33,34,35,36,37,38,39,40,41,42,43,44], "labels": false, "domain": false, "tickSize": -3, "title": null}},
        "y": {"datum": 30, "type": "quantitative", "axis": {"orient": "right", "values": [30,32,34,36,38,40,42,44,46,48,50], "labels": false, "domain": false, "tickSize": -6, "title": null}},
        "y2": {"datum": 47.05}
      }
    },
    {
      "data": {"name": "sun"},
      "mark": {"type": "text", "angle": 270, "align": "left", "baseline": "middle", "font": "DejaVu Sans Mono", "fontSize": 10, "color": "black"},
      "encoding": {
        "x": {"field": "hour", "type": "quantitative", "axis": {"orient": "top", "values": [0,1,2,3,4,5,6,7,8,9,10,11,12,13,14,15,16,17,18,19,20,21,22,23,24,25,26,27,28,29,30,31,32,33,34,35,36,37,38,39,40,41,42,43,44], "labels": false, "domain": false, "tickSize": -4, "title": null}},
        "y": {"datum": 47.4, "type": "quantitative", "axis": null},
        "text": {"field": "event"}
      }
    }
  ],
  "resolve": {"axis": {"x": "independent", "y": "independent"}}
}
